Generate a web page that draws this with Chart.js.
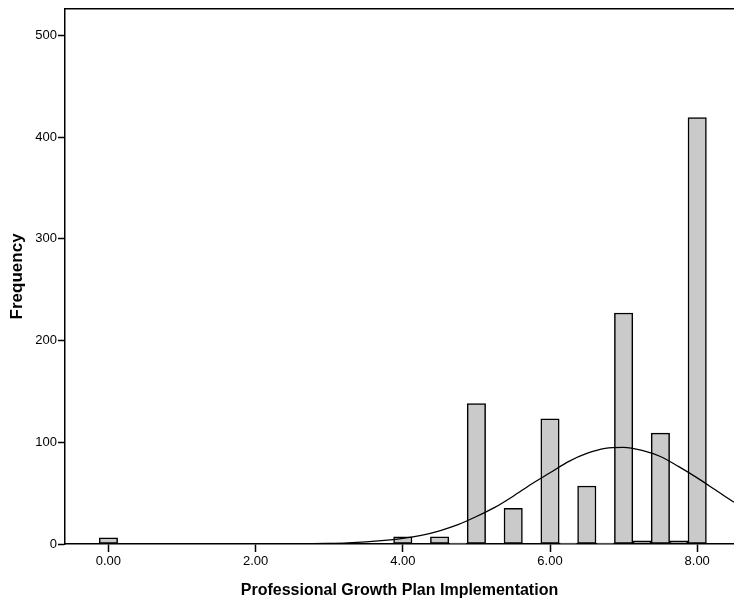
<!DOCTYPE html>
<html>
<head>
  <meta charset="UTF-8" />
  <title>Professional Growth Plan Implementation</title>
  <script src="https://cdn.jsdelivr.net/npm/chart.js"></script>
  <style>
    body { margin: 0; background: #fff; }
    canvas { display: block; }
  </style>
</head>
<body>
  <canvas id="hist" width="734" height="602"></canvas>
  <script>
    // histogram bins (bin centre, width 0.25) and counts
    const binCentres = [0.00, 3.00, 4.00, 4.50, 4.75, 5.00, 5.50, 6.00, 6.25, 6.50, 6.75, 7.00, 7.25, 7.50, 7.75, 8.00];
    const binCounts  = [6,    1,    7,    7,    1,    138,  35,   123,  1,    57,   1,    227,  3,    109,  3,    419];

    // normal curve
    const curveX = [2.0, 2.5, 3.0, 3.25, 3.5, 3.75, 4.0, 4.25, 4.5, 4.75, 5.0, 5.25, 5.5, 5.75, 6.0, 6.25, 6.5, 6.75, 7.0, 7.25, 7.5, 7.75, 8.0, 8.25, 8.5];
    const curveY = [0,   0.1, 0.5, 1,    2,   3.5,  5.5, 8.5,  13,  19,   27,  36,   47,  59,   70,  81,   89,  94,   95,  92,   86,  76,   65,  53,   41];

    const xTicks = [0, 2, 4, 6, 8];
    const yTicks = [0, 100, 200, 300, 400, 500];

    const topBorder = {
      id: 'topBorder',
      afterDraw(chart) {
        const { ctx, chartArea } = chart;
        ctx.save();
        ctx.strokeStyle = '#000';
        ctx.lineWidth = 1.5;
        ctx.beginPath();
        ctx.moveTo(chartArea.left, chartArea.top);
        ctx.lineTo(chartArea.right, chartArea.top);
        ctx.stroke();
        ctx.restore();
      }
    };

    const tickFont = { family: 'Liberation Sans, Arial, sans-serif', size: 13 };
    const titleFont = { family: 'Liberation Sans, Arial, sans-serif', size: 17, weight: 'bold' };

    new Chart(document.getElementById('hist'), {
      type: 'bar',
      data: {
        datasets: [
          {
            type: 'line',
            data: curveX.map((x, i) => ({ x: x, y: curveY[i] })),
            borderColor: '#000',
            borderWidth: 1.3,
            pointRadius: 0,
            tension: 0.4,
            cubicInterpolationMode: 'monotone',
            order: 0
          },
          {
            data: binCentres.map((x, i) => ({ x: x, y: binCounts[i] })),
            backgroundColor: '#cacaca',
            borderColor: '#000',
            borderWidth: 1.5,
            borderSkipped: false,
            barPercentage: 1,
            categoryPercentage: 1,
            order: 1
          }
        ]
      },
      options: {
        responsive: false,
        animation: false,
        layout: { padding: { top: 6, left: 0, right: 0, bottom: 0 } },
        plugins: { legend: { display: false }, tooltip: { enabled: false } },
        scales: {
          x: {
            type: 'linear',
            min: -0.59,
            max: 8.5,
            offset: false,
            afterBuildTicks: s => { s.ticks = xTicks.map(v => ({ value: v })); },
            afterFit: s => { s.height = 58; },
            ticks: { color: '#000', font: tickFont, padding: 2, maxRotation: 0, callback: v => v.toFixed(2) },
            grid: { offset: false, drawOnChartArea: false, drawTicks: true, tickLength: 8, color: '#000', tickWidth: 1.5 },
            border: { display: true, color: '#000', width: 1.5 },
            title: { display: true, text: 'Professional Growth Plan Implementation', color: '#000', font: { ...titleFont, size: 16 }, padding: { top: 0, bottom: 2 } }
          },
          y: {
            min: 0,
            max: 526,
            afterBuildTicks: s => { s.ticks = yTicks.map(v => ({ value: v })); },
            afterFit: s => { s.width = 65; },
            ticks: { color: '#000', font: tickFont, padding: 1 },
            grid: { drawOnChartArea: false, drawTicks: true, tickLength: 7, color: '#000', tickWidth: 1.5 },
            border: { display: true, color: '#000', width: 1.5 },
            title: { display: true, text: 'Frequency', color: '#000', font: titleFont, padding: { top: 7, bottom: 0 } }
          }
        }
      },
      plugins: [topBorder]
    });
  </script>
</body>
</html>
